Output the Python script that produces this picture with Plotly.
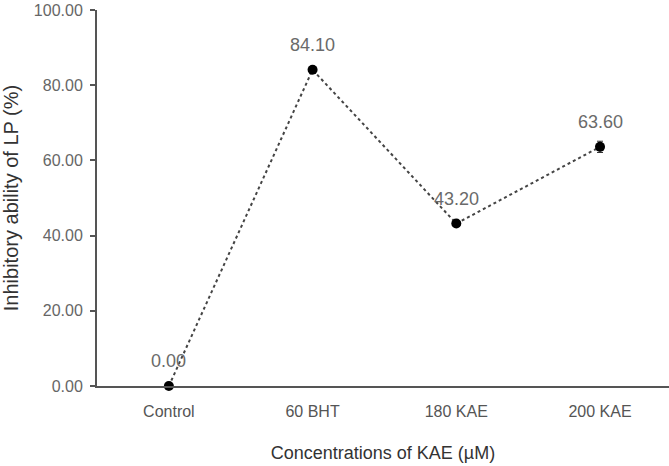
import plotly.graph_objects as go

categories = ["Control", "60 BHT", "180 KAE", "200 KAE"]
values = [0.00, 84.10, 43.20, 63.60]
errors = [0.0, 0.8, 0.6, 1.5]
labels = ["0.00", "84.10", "43.20", "63.60"]
y_ticks = [0, 20, 40, 60, 80, 100]

FONT = "Liberation Sans, Arial"
xs = list(range(len(categories)))

fig = go.Figure()
fig.add_trace(go.Scatter(
    x=xs, y=values,
    mode="lines+markers",
    line=dict(color="#444444", width=2, dash="dot"),
    marker=dict(color="black", size=10),
    error_y=dict(type="data", array=errors, color="#333333", width=3, thickness=1),
    cliponaxis=False,
    showlegend=False,
))

for x, v, t in zip(xs, values, labels):
    fig.add_annotation(
        x=x, y=v, text=t, showarrow=False,
        yanchor="bottom", yshift=13,
        font=dict(family=FONT, size=18, color="#6a6a6a"),
    )

fig.update_layout(
    width=669, height=466,
    margin=dict(l=97, r=0, t=10, b=80),
    plot_bgcolor="white", paper_bgcolor="white",
    font=dict(family=FONT, color="#555555"),
    xaxis=dict(
        range=[-0.5, 3.48],
        tickvals=xs, ticktext=categories,
        showline=True, linecolor="#555555", linewidth=2,
        showgrid=False, zeroline=False, ticks="",
        ticklabelstandoff=10,
        tickfont=dict(family=FONT, size=16, color="#555555"),
        title=dict(text="Concentrations of KAE (µM)", font=dict(family=FONT, size=18, color="#333333"), standoff=27),
    ),
    yaxis=dict(
        range=[0, 100],
        tickvals=y_ticks, ticktext=[f"{v:.2f}" for v in y_ticks],
        showline=True, linecolor="#555555", linewidth=2,
        showgrid=False, zeroline=False, ticks="outside", ticklen=5, tickwidth=1.5, tickcolor="#555555",
        ticklabelstandoff=4,
        tickfont=dict(family=FONT, size=16, color="#666666"),
        title=dict(text="Inhibitory ability of LP (%)", font=dict(family=FONT, size=20, color="#333333"), standoff=14),
    ),
)

fig.write_html("out.html")
